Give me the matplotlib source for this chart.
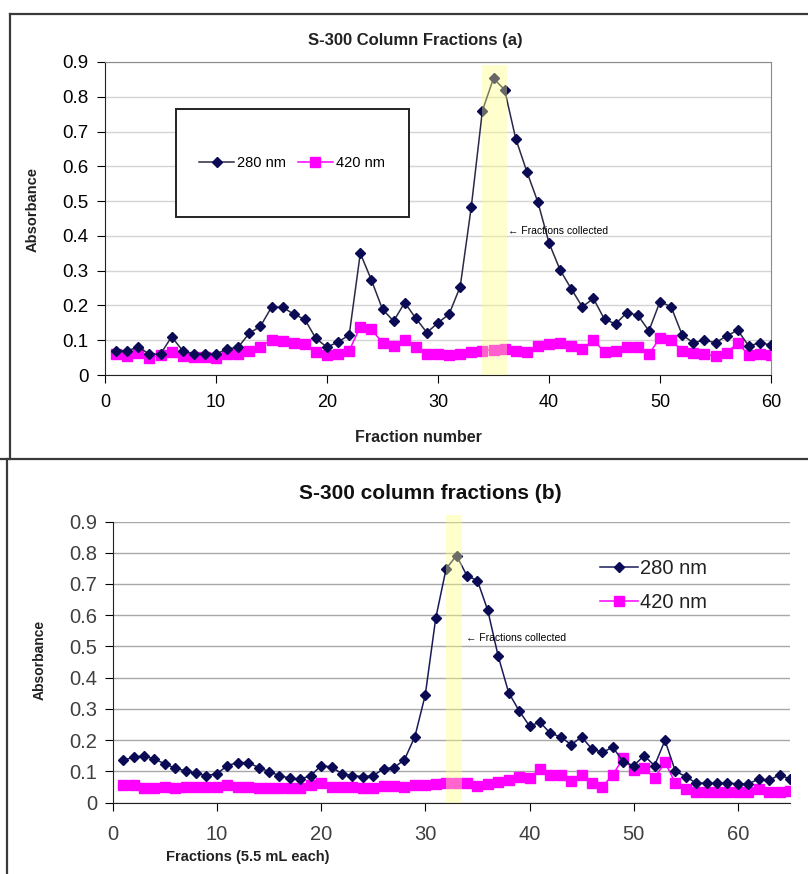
import numpy as np
import matplotlib
matplotlib.use('Agg')
import matplotlib.pyplot as plt
from matplotlib.patches import Rectangle
from matplotlib.lines import Line2D

plt.rcParams['font.family'] = ['Liberation Sans', 'DejaVu Sans']

# --- chart (a) ---
frac_a = np.arange(1, 61)
a280 = [0.07, 0.07, 0.08, 0.06, 0.06, 0.11, 0.07, 0.06, 0.06, 0.06,
        0.075, 0.08, 0.12, 0.14, 0.195, 0.195, 0.175, 0.16, 0.105, 0.08,
        0.095, 0.115, 0.35, 0.273, 0.189, 0.155, 0.208, 0.163, 0.122, 0.15,
        0.175, 0.254, 0.484, 0.76, 0.853, 0.82, 0.68, 0.585, 0.497, 0.38,
        0.302, 0.248, 0.196, 0.22, 0.16, 0.147, 0.179, 0.172, 0.127, 0.211,
        0.196, 0.115, 0.093, 0.10, 0.093, 0.112, 0.129, 0.083, 0.093, 0.086]
a420 = [0.06, 0.055, 0.064, 0.05, 0.057, 0.067, 0.055, 0.052, 0.052, 0.048,
        0.06, 0.06, 0.07, 0.081, 0.102, 0.098, 0.092, 0.088, 0.067, 0.057,
        0.06, 0.07, 0.139, 0.131, 0.093, 0.083, 0.102, 0.081, 0.06, 0.06,
        0.057, 0.06, 0.065, 0.07, 0.073, 0.076, 0.07, 0.065, 0.083, 0.089,
        0.092, 0.084, 0.076, 0.10, 0.067, 0.07, 0.08, 0.08, 0.06, 0.107,
        0.10, 0.07, 0.063, 0.06, 0.054, 0.064, 0.092, 0.057, 0.06, 0.057]
band_a = (34.0, 36.2)

# --- chart (b) ---
frac_b = np.arange(1, 66)
b280 = [0.135, 0.145, 0.15, 0.139, 0.124, 0.11, 0.101, 0.094, 0.086, 0.092,
        0.118, 0.128, 0.128, 0.112, 0.099, 0.086, 0.078, 0.075, 0.086, 0.118,
        0.114, 0.092, 0.086, 0.083, 0.086, 0.108, 0.112, 0.137, 0.211, 0.345,
        0.59, 0.749, 0.791, 0.726, 0.711, 0.615, 0.468, 0.352, 0.294, 0.245,
        0.257, 0.222, 0.21, 0.185, 0.21, 0.171, 0.161, 0.177, 0.13, 0.118,
        0.15, 0.118, 0.199, 0.10, 0.083, 0.062, 0.062, 0.062, 0.062, 0.06,
        0.06, 0.075, 0.071, 0.089, 0.075]
b420 = [0.055, 0.055, 0.045, 0.045, 0.05, 0.045, 0.05, 0.05, 0.05, 0.05,
        0.055, 0.05, 0.05, 0.045, 0.045, 0.046, 0.046, 0.046, 0.057, 0.062,
        0.051, 0.05, 0.051, 0.046, 0.046, 0.052, 0.053, 0.05, 0.057, 0.057,
        0.06, 0.064, 0.064, 0.062, 0.054, 0.06, 0.067, 0.073, 0.083, 0.078,
        0.107, 0.089, 0.089, 0.07, 0.089, 0.062, 0.051, 0.089, 0.142, 0.105,
        0.11, 0.078, 0.129, 0.062, 0.043, 0.035, 0.035, 0.035, 0.035, 0.035,
        0.035, 0.043, 0.035, 0.035, 0.036]
band_b = (32.0, 33.5)

NAVY = '#0b0b55'
PINK = '#ff00ff'
YELLOW = '#ffff80'

W, H = 808, 874
fig = plt.figure(figsize=(W / 100, H / 100), dpi=100)


def fx(px):
    return px / W


def fy(py):
    return 1 - py / H


# frames around the two chart areas
frame_kw = dict(color='#3a3a3a', lw=1.6, transform=fig.transFigure)
fig.add_artist(Line2D([fx(10), fx(10)], [fy(14), fy(459)], **frame_kw))
fig.add_artist(Line2D([fx(10), 1], [fy(14), fy(14)], **frame_kw))
fig.add_artist(Line2D([0, 1], [fy(459), fy(459)], **frame_kw))
fig.add_artist(Line2D([fx(7), fx(7)], [fy(459), 0], **frame_kw))

# ---------------- top chart ----------------
ax1 = fig.add_axes([fx(105), fy(375), fx(771 - 105), (375 - 62) / H])
ax1.set_xlim(0, 60)
ax1.set_ylim(0, 0.9)
ax1.set_yticks(np.arange(0, 0.91, 0.1))
ax1.set_yticklabels(['0'] + [f'{v:.1f}' for v in np.arange(0.1, 0.91, 0.1)])
ax1.set_xticks(range(0, 61, 10))
ax1.grid(axis='y', color='#d4d4d4', lw=1)
ax1.set_axisbelow(True)
for s in ['top', 'right']:
    ax1.spines[s].set_color('#8a8a8a')
for s in ['left', 'bottom']:
    ax1.spines[s].set_color('#222222')
ax1.tick_params(axis='y', direction='out', length=6, labelsize=13.5, pad=6)
ax1.tick_params(axis='x', direction='out', length=6, labelsize=13, pad=8)

ax1.plot(frac_a, a280, color='#2a2a45', lw=1.1, marker='D', ms=5.5,
         mfc=NAVY, mec=NAVY, zorder=3, label='280 nm')
ax1.plot(frac_a, a420, color=PINK, lw=1.1, marker='s', ms=7,
         mfc=PINK, mec=PINK, zorder=2, label='420 nm')
ax1.axvspan(*band_a, ymax=0.99, color=YELLOW, alpha=0.38, lw=0, zorder=4)
ax1.text(36.3, 0.414, '\u2190 Fractions collected', fontsize=7.5,
         ha='left', va='center', zorder=5)

ax1.add_patch(Rectangle((0.1066, 0.505), 0.35, 0.345, transform=ax1.transAxes,
                        fill=True, fc='white', ec='#222222', lw=1.4, zorder=5))
leg1 = ax1.legend(loc='center', bbox_to_anchor=(0.281, 0.677), ncol=2,
                  frameon=False, fontsize=10.5, handlelength=2.4,
                  columnspacing=0.8, handletextpad=0.2)
leg1.set_zorder(6)

fig.text(fx(415), fy(40), 'S-300 Column Fractions (a)', fontsize=12,
         fontweight='bold', ha='center', va='center', color='#222222')
fig.text(fx(33), fy(210), 'Absorbance', fontsize=10.5, fontweight='bold',
         rotation=90, ha='center', va='center', color='#222222')
fig.text(fx(418), fy(437), 'Fraction number', fontsize=11.5, fontweight='bold',
         ha='center', va='center', color='#222222')

# ---------------- bottom chart ----------------
ax2 = fig.add_axes([fx(112.7), fy(802.5), fx(790 - 112.7), (802.5 - 521.5) / H])
ax2.set_xlim(0, 65)
ax2.set_ylim(0, 0.9)
ax2.set_yticks(np.arange(0, 0.91, 0.1))
ax2.set_yticklabels(['0'] + [f'{v:.1f}' for v in np.arange(0.1, 0.91, 0.1)])
ax2.set_xticks(range(0, 61, 10))
ax2.grid(axis='y', color='#a8a8a8', lw=1)
ax2.set_axisbelow(True)
for s in ['top', 'right']:
    ax2.spines[s].set_visible(False)
for s in ['left', 'bottom']:
    ax2.spines[s].set_color('#222222')
ax2.tick_params(axis='both', direction='out', length=6, labelsize=14.5,
                labelcolor='#404040')
ax2.tick_params(axis='x', pad=10)
ax2.tick_params(axis='y', pad=5)

ax2.plot(frac_b, b280, color='#1a1a5a', lw=1.1, marker='D', ms=5.5,
         mfc=NAVY, mec=NAVY, zorder=3, label='280 nm')
ax2.plot(frac_b, b420, color=PINK, lw=1.1, marker='s', ms=7,
         mfc=PINK, mec=PINK, zorder=2, label='420 nm')
ax2.add_patch(Rectangle((band_b[0], 0), band_b[1] - band_b[0], 0.92,
                        fc=YELLOW, alpha=0.4, lw=0, zorder=4, clip_on=False))
ax2.text(33.9, 0.527, '\u2190 Fractions collected', fontsize=7.5,
         ha='left', va='center', zorder=5)
ax2.legend(loc='upper left', bbox_to_anchor=(0.692, 0.93), frameon=False,
           fontsize=14.5, handlelength=1.9, handletextpad=0.1, labelspacing=0.75,
           labelcolor='#222222')

fig.text(fx(430), fy(494), 'S-300 column fractions (b)', fontsize=15,
         fontweight='bold', ha='center', va='center', color='#111111')
fig.text(fx(40), fy(660), 'Absorbance', fontsize=10, fontweight='bold',
         rotation=90, ha='center', va='center', color='#222222')
fig.text(fx(248), fy(857), 'Fractions (5.5 mL each)', fontsize=10.5,
         fontweight='bold', ha='center', va='center', color='#222222')

fig.savefig('out.png', dpi=100)
